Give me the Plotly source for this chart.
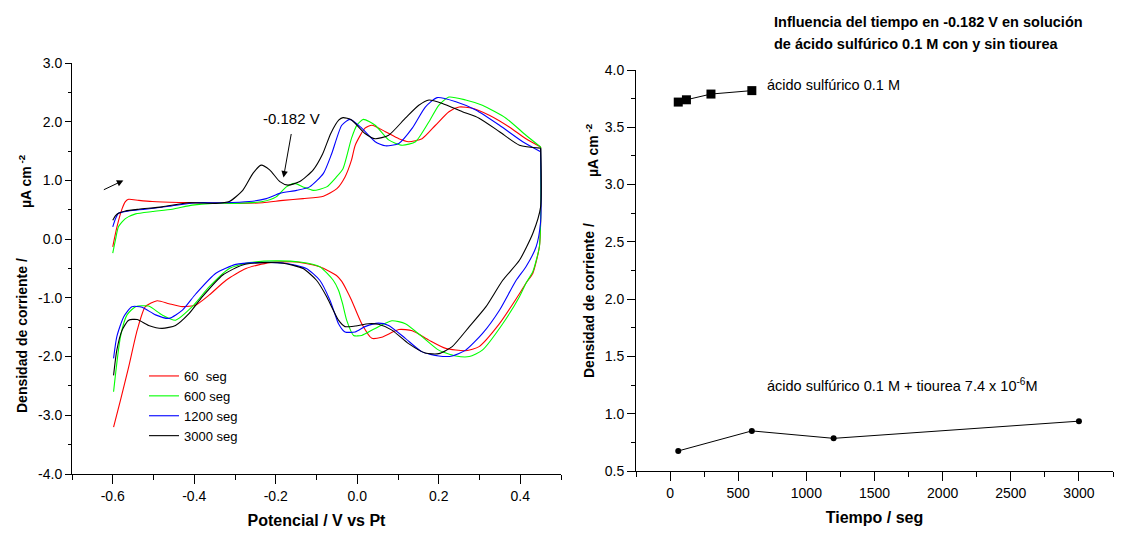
import plotly.graph_objects as go

# ---------------- Left panel: cyclic voltammograms ----------------
# forward (anodic) branch, -0.6 -> 0.45 V
v_up_60 = [-0.6, -0.59, -0.577, -0.569, -0.561, -0.536, -0.503, -0.438, -0.372, -0.298, -0.232, -0.182, -0.133, -0.083, -0.05, -0.03, -0.014, -0.005, 0.019, 0.036, 0.069, 0.102, 0.126, 0.159, 0.192, 0.225, 0.25, 0.283, 0.324, 0.373, 0.414, 0.45]
j_up_60 = [-0.13, 0.2, 0.52, 0.64, 0.68, 0.66, 0.64, 0.625, 0.62, 0.61, 0.62, 0.66, 0.69, 0.73, 0.86, 1.06, 1.35, 1.6, 1.89, 1.94, 1.83, 1.71, 1.66, 1.71, 1.94, 2.17, 2.25, 2.23, 2.11, 1.91, 1.71, 1.57]
# reverse (cathodic) branch, 0.45 -> -0.6 V
v_dn_60 = [0.45, 0.45, 0.447, 0.431, 0.414, 0.398, 0.349, 0.299, 0.266, 0.217, 0.176, 0.135, 0.102, 0.06, 0.036, 0.011, -0.014, -0.026, -0.038, -0.051, -0.092, -0.149, -0.215, -0.273, -0.322, -0.363, -0.396, -0.429, -0.462, -0.491, -0.52, -0.54, -0.561, -0.581, -0.598]
j_dn_60 = [1.57, 0.3, -0.13, -0.58, -0.75, -0.93, -1.44, -1.83, -1.9, -1.86, -1.72, -1.56, -1.54, -1.67, -1.69, -1.44, -1.04, -0.87, -0.72, -0.62, -0.47, -0.39, -0.4, -0.5, -0.7, -0.95, -1.12, -1.15, -1.1, -1.05, -1.15, -1.55, -2.18, -2.74, -3.2]

v_up_600 = [-0.6, -0.593, -0.586, -0.569, -0.544, -0.503, -0.454, -0.405, -0.355, -0.298, -0.232, -0.199, -0.174, -0.154, -0.133, -0.108, -0.075, -0.051, -0.035, -0.014, 0.0, 0.015, 0.044, 0.077, 0.11, 0.143, 0.176, 0.2, 0.225, 0.266, 0.307, 0.365, 0.414, 0.45]
j_up_600 = [-0.24, 0.0, 0.21, 0.35, 0.43, 0.47, 0.51, 0.58, 0.61, 0.61, 0.64, 0.72, 0.89, 0.95, 0.89, 0.83, 0.89, 1.06, 1.2, 1.72, 1.95, 2.04, 1.94, 1.69, 1.6, 1.66, 2.0, 2.28, 2.42, 2.37, 2.28, 2.06, 1.77, 1.57]
v_dn_600 = [0.45, 0.45, 0.447, 0.431, 0.414, 0.398, 0.357, 0.307, 0.275, 0.242, 0.2, 0.159, 0.118, 0.085, 0.044, 0.011, -0.009, -0.026, -0.036, -0.046, -0.059, -0.092, -0.141, -0.199, -0.265, -0.314, -0.363, -0.405, -0.446, -0.479, -0.512, -0.544, -0.565, -0.581, -0.598]
j_dn_600 = [1.57, 0.3, -0.13, -0.55, -0.75, -0.98, -1.44, -1.89, -2.0, -1.99, -1.89, -1.66, -1.44, -1.39, -1.52, -1.64, -1.64, -1.38, -1.1, -0.87, -0.7, -0.47, -0.39, -0.37, -0.4, -0.5, -0.81, -1.15, -1.38, -1.29, -1.14, -1.15, -1.29, -1.66, -2.6]

v_up_1200 = [-0.6, -0.593, -0.586, -0.561, -0.52, -0.462, -0.396, -0.33, -0.265, -0.223, -0.19, -0.149, -0.117, -0.083, -0.063, -0.038, -0.018, 0.011, 0.044, 0.069, 0.102, 0.135, 0.167, 0.196, 0.242, 0.291, 0.349, 0.406, 0.45]
j_up_1200 = [0.21, 0.35, 0.44, 0.48, 0.51, 0.56, 0.62, 0.62, 0.64, 0.69, 0.78, 0.83, 0.89, 1.12, 1.45, 1.94, 2.04, 1.89, 1.66, 1.59, 1.63, 1.89, 2.25, 2.41, 2.34, 2.2, 1.94, 1.66, 1.49]
v_dn_1200 = [0.45, 0.45, 0.439, 0.414, 0.39, 0.349, 0.307, 0.266, 0.233, 0.2, 0.159, 0.118, 0.077, 0.052, 0.019, -0.005, -0.03, -0.046, -0.056, -0.067, -0.092, -0.125, -0.178, -0.248, -0.298, -0.347, -0.396, -0.429, -0.462, -0.495, -0.528, -0.553, -0.573, -0.59, -0.598]
j_dn_1200 = [1.55, 0.3, -0.13, -0.47, -0.7, -1.21, -1.61, -1.89, -1.99, -1.99, -1.92, -1.69, -1.47, -1.43, -1.49, -1.58, -1.58, -1.44, -1.25, -1.04, -0.7, -0.5, -0.41, -0.4, -0.43, -0.58, -0.93, -1.21, -1.35, -1.29, -1.16, -1.15, -1.32, -1.66, -2.03]

v_up_3000 = [-0.6, -0.593, -0.586, -0.569, -0.536, -0.479, -0.413, -0.347, -0.314, -0.281, -0.256, -0.236, -0.215, -0.19, -0.17, -0.141, -0.108, -0.085, -0.065, -0.045, -0.035, -0.014, 0.019, 0.044, 0.077, 0.118, 0.151, 0.176, 0.209, 0.258, 0.299, 0.349, 0.398, 0.45]
j_up_3000 = [0.32, 0.4, 0.44, 0.48, 0.51, 0.55, 0.62, 0.61, 0.64, 0.83, 1.12, 1.26, 1.18, 0.98, 0.92, 0.98, 1.18, 1.45, 1.8, 2.03, 2.07, 2.03, 1.8, 1.71, 1.77, 2.06, 2.28, 2.37, 2.31, 2.17, 2.06, 1.83, 1.6, 1.55]
v_dn_3000 = [0.45, 0.45, 0.431, 0.398, 0.357, 0.316, 0.275, 0.233, 0.2, 0.167, 0.126, 0.085, 0.052, 0.028, -0.005, -0.03, -0.046, -0.063, -0.075, -0.1, -0.133, -0.182, -0.232, -0.281, -0.33, -0.38, -0.413, -0.446, -0.479, -0.512, -0.54, -0.561, -0.577, -0.59, -0.598]
j_dn_3000 = [1.55, 0.55, 0.1, -0.36, -0.7, -1.15, -1.49, -1.83, -1.95, -1.94, -1.78, -1.55, -1.45, -1.44, -1.48, -1.49, -1.38, -1.15, -0.98, -0.7, -0.5, -0.41, -0.4, -0.44, -0.61, -0.98, -1.27, -1.47, -1.52, -1.47, -1.37, -1.38, -1.55, -1.89, -2.32]

cv_names = ["60\u00a0 seg", "600 seg", "1200 seg", "3000 seg"]
cv_colors = ["#ff0000", "#00ff00", "#0000ff", "#000000"]

# tick labels of the left panel (plain hyphen minus, as in the original)
pot_ticks = [-0.6, -0.4, -0.2, 0.0, 0.2, 0.4]
pot_tick_labels = ["-0.6", "-0.4", "-0.2", "0.0", "0.2", "0.4"]
cur_ticks = [-4, -3, -2, -1, 0, 1, 2, 3]
cur_tick_labels = ["-4.0", "-3.0", "-2.0", "-1.0", "0.0", "1.0", "2.0", "3.0"]

# ---------------- Right panel: current at -0.182 V vs time ----------------
t_acid = [60, 120, 300, 600]
j_acid = [3.72, 3.74, 3.79, 3.82]
t_tio = [60, 600, 1200, 3000]
j_tio = [0.675, 0.85, 0.785, 0.935]

# page body has an 8 px margin: lay the figure out in page coordinates
OFF = 8
W, H = 1116, 527
FONT = "Liberation Sans, Arial, sans-serif"


def px(x):
    return (x - OFF) / W


def py(y):
    return 1 - (y - OFF) / H


fig = go.Figure()

cv_sets = [
    (v_up_60, j_up_60, v_dn_60, j_dn_60),
    (v_up_600, j_up_600, v_dn_600, j_dn_600),
    (v_up_1200, j_up_1200, v_dn_1200, j_dn_1200),
    (v_up_3000, j_up_3000, v_dn_3000, j_dn_3000),
]
for i, ((vu, ju, vd, jd), name, col) in enumerate(zip(cv_sets, cv_names, cv_colors)):
    line = dict(color=col, width=1.1, shape="spline", smoothing=0.6)
    fig.add_trace(go.Scatter(x=vu, y=ju, mode="lines", name=name, legendgroup=name,
                             line=line, xaxis="x", yaxis="y", showlegend=True))
    fig.add_trace(go.Scatter(x=vd, y=jd, mode="lines", name=name, legendgroup=name,
                             line=line, xaxis="x", yaxis="y", showlegend=False))

fig.add_trace(go.Scatter(
    x=t_acid, y=j_acid, mode="lines+markers", showlegend=False,
    line=dict(color="black", width=1),
    marker=dict(symbol="square", size=9, color="black"),
    xaxis="x2", yaxis="y2",
))
fig.add_trace(go.Scatter(
    x=t_tio, y=j_tio, mode="lines+markers", showlegend=False,
    line=dict(color="black", width=1),
    marker=dict(symbol="circle", size=6, color="black"),
    xaxis="x2", yaxis="y2",
))

axis_common = dict(
    showline=True, linecolor="black", linewidth=1, showgrid=False, zeroline=False,
    ticks="outside", tickcolor="black", tickwidth=1, automargin=False,
    tickfont=dict(family=FONT, size=14, color="black"), mirror=False,
)

fig.update_layout(
    width=W, height=H, template="none",
    paper_bgcolor="white", plot_bgcolor="white",
    margin=dict(l=0, r=0, t=0, b=0),
    font=dict(family=FONT, color="black"),
    xaxis=dict(
        domain=[px(72), px(561)], range=[-0.7, 0.5], tickmode="array",
        tickvals=pot_ticks, ticktext=pot_tick_labels,
        ticklen=9, minor=dict(dtick=0.1, tick0=0, ticks="outside", ticklen=5, tickcolor="black"),
        title=dict(text="Potencial / V vs Pt", font=dict(family=FONT, size=16, weight="bold"), standoff=12),
        anchor="y", **axis_common,
    ),
    yaxis=dict(
        domain=[py(474), py(63)], range=[-4, 3], tickmode="array",
        tickvals=cur_ticks, ticktext=cur_tick_labels,
        ticklen=6, minor=dict(dtick=0.5, tick0=0, ticks="outside", ticklen=3, tickcolor="black"),
        anchor="x", **axis_common,
    ),
    xaxis2=dict(
        domain=[px(636), px(1113)], range=[-250, 3250], tick0=0, dtick=500,
        ticklen=9, minor=dict(dtick=250, tick0=0, ticks="outside", ticklen=5, tickcolor="black"),
        title=dict(text="Tiempo / seg", font=dict(family=FONT, size=16, weight="bold"), standoff=12),
        anchor="y2", **axis_common,
    ),
    yaxis2=dict(
        domain=[py(471), py(70)], range=[0.5, 4.0], tick0=0, dtick=0.5, tickformat=".1f",
        ticklen=8, minor=dict(dtick=0.25, tick0=0, ticks="outside", ticklen=4, tickcolor="black"),
        anchor="x2", **axis_common,
    ),
    legend=dict(
        x=px(144), y=py(361), xanchor="left", yanchor="top",
        bgcolor="rgba(0,0,0,0)", borderwidth=0, tracegroupgap=0,
        font=dict(family=FONT, size=13, color="black"),
    ),
    showlegend=True,
)

ann = []
# y-axis titles (rotated)
ylab_font = dict(family=FONT, size=14, weight="bold", color="black")
for xc, yc1, yc2 in [(22, 336, 181), (589, 300, 150)]:
    ann.append(dict(text="Densidad de corriente /", x=px(xc), y=py(yc1), xref="paper", yref="paper",
                    showarrow=False, textangle=-90, font=ylab_font, xanchor="center", yanchor="middle"))
    ann.append(dict(text="µA cm<sup> -2</sup>", x=px(xc + 3), y=py(yc2), xref="paper", yref="paper",
                    showarrow=False, textangle=-90, font=ylab_font, xanchor="center", yanchor="middle"))

# right panel title
title_font = dict(family=FONT, size=14.5, weight="bold", color="black")
ann.append(dict(text="Influencia del tiempo en -0.182 V en solución", x=px(772), y=py(22),
                xref="paper", yref="paper", showarrow=False, xanchor="left", yanchor="middle", font=title_font))
ann.append(dict(text="de ácido sulfúrico 0.1 M con y sin tiourea", x=px(772), y=py(44),
                xref="paper", yref="paper", showarrow=False, xanchor="left", yanchor="middle", font=title_font))

# series labels on right panel
lab_font = dict(family=FONT, size=14.5, color="black")
ann.append(dict(text="ácido sulfúrico 0.1 M", x=696, y=3.87, xref="x2", yref="y2",
                showarrow=False, xanchor="left", yanchor="middle", font=lab_font))
ann.append(dict(text="ácido sulfúrico 0.1 M + tiourea 7.4 x 10<sup>-6</sup>M", x=696, y=1.25, xref="x2", yref="y2",
                showarrow=False, xanchor="left", yanchor="middle", font=lab_font))

# left panel: peak label and arrows
ann.append(dict(text="-0.182 V", x=-0.162, y=2.06, xref="x", yref="y", showarrow=False,
                xanchor="center", yanchor="middle", font=dict(family=FONT, size=15, color="black")))
ann.append(dict(text="", x=-0.181, y=1.05, xref="x", yref="y", showarrow=True,
                ax=8, ay=-45, arrowhead=2, arrowsize=1.3, arrowwidth=1, arrowcolor="black"))
ann.append(dict(text="", x=-0.574, y=1.0, xref="x", yref="y", showarrow=True,
                ax=-21, ay=10, arrowhead=2, arrowsize=1.3, arrowwidth=1, arrowcolor="black"))

fig.update_layout(annotations=ann)

fig.write_html("out.html")
